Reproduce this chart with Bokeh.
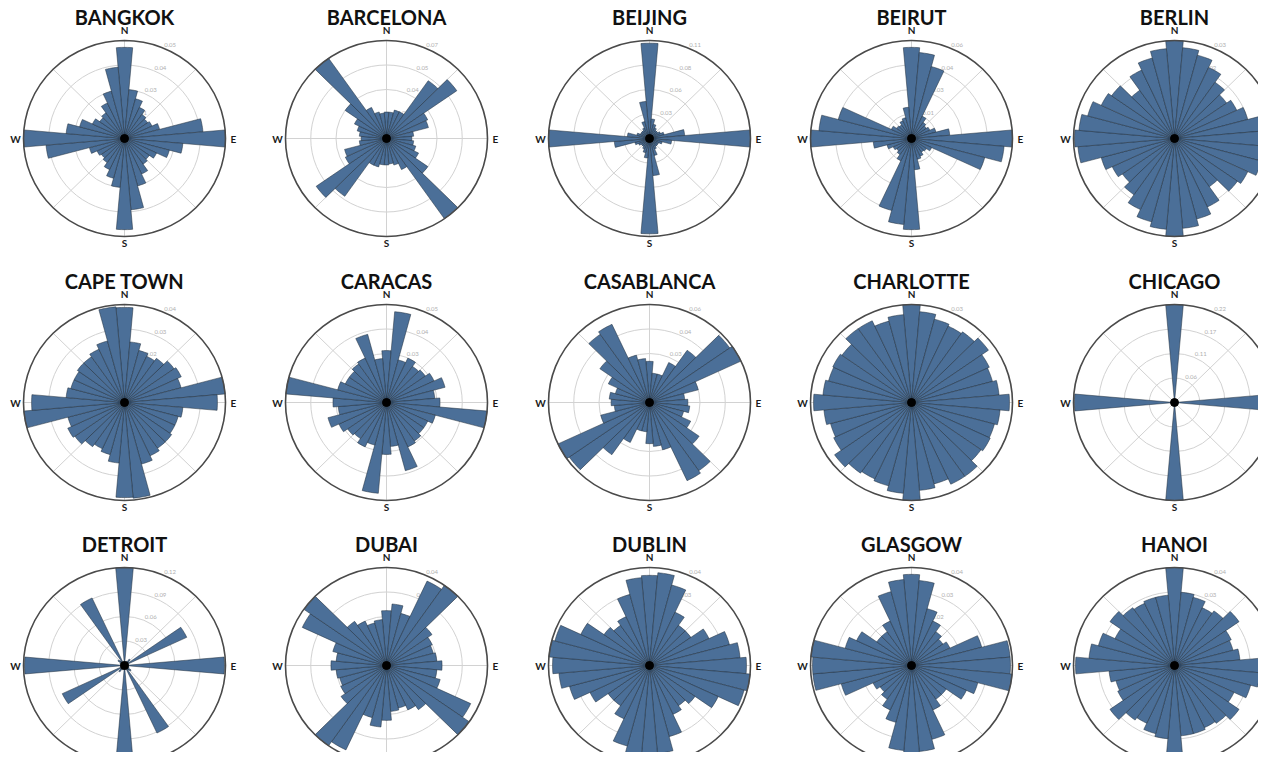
import math
from bokeh.plotting import figure
from bokeh.models import Range1d
from bokeh.embed import file_html
from bokeh.resources import INLINE
from bokeh.core.properties import value

# ---------------- data: share of street bearings per 10-degree bin ----------------
# bins centred at 0, 10, ..., 170 degrees (bins 180..350 mirror these)
cities = ["BANGKOK", "BARCELONA", "BEIJING", "BEIRUT", "BERLIN",
          "CAPE TOWN", "CARACAS", "CASABLANCA", "CHARLOTTE", "CHICAGO",
          "DETROIT", "DUBAI", "DUBLIN", "GLASGOW", "HANOI"]

bangkok = [0.0465, 0.025, 0.021, 0.0175, 0.015, 0.014, 0.015, 0.018, 0.039,
           0.05, 0.029, 0.023, 0.0175, 0.015, 0.016, 0.02, 0.025, 0.0365]
barcelona = [0.0189, 0.0189, 0.021, 0.021, 0.0504, 0.0595, 0.0315, 0.0301, 0.0189,
             0.0175, 0.0189, 0.021, 0.0245, 0.035, 0.07, 0.0245, 0.0196, 0.0182]
beijing = [0.107, 0.022, 0.0165, 0.0132, 0.011, 0.011, 0.0132, 0.0165, 0.0385,
           0.11, 0.0242, 0.0143, 0.011, 0.011, 0.011, 0.0132, 0.0198, 0.0418]
beirut = [0.0558, 0.0528, 0.0456, 0.015, 0.012, 0.0108, 0.012, 0.015, 0.0228,
          0.06, 0.0552, 0.045, 0.0132, 0.0108, 0.0102, 0.012, 0.0132, 0.0192]
berlin = [0.03, 0.0279, 0.0264, 0.024, 0.021, 0.0189, 0.0204, 0.0225, 0.0288,
          0.0297, 0.0285, 0.0267, 0.024, 0.0228, 0.018, 0.0231, 0.0255, 0.0276]
cape_town = [0.0388, 0.0248, 0.022, 0.0208, 0.022, 0.024, 0.0248, 0.0232, 0.04,
             0.0368, 0.0232, 0.022, 0.022, 0.0228, 0.0228, 0.024, 0.026, 0.0392]
caracas = [0.0265, 0.0465, 0.0225, 0.025, 0.0225, 0.0235, 0.026, 0.03, 0.024,
           0.0265, 0.05, 0.025, 0.0225, 0.0225, 0.024, 0.025, 0.036, 0.0225]
casablanca = [0.0252, 0.018, 0.018, 0.027, 0.039, 0.0582, 0.06, 0.03, 0.021,
              0.0228, 0.024, 0.021, 0.027, 0.036, 0.051, 0.0528, 0.03, 0.027]
charlotte = [0.03, 0.0279, 0.0264, 0.0258, 0.0264, 0.0279, 0.0255, 0.0249, 0.0261,
             0.0291, 0.0264, 0.0255, 0.0258, 0.0252, 0.0276, 0.0276, 0.0258, 0.027]
chicago = [0.22, 0.0044, 0.0022, 0.0022, 0.0022, 0.0022, 0.0022, 0.0022, 0.0044,
           0.218, 0.0044, 0.0022, 0.0022, 0.0022, 0.0022, 0.0022, 0.0022, 0.0044]
detroit = [0.12, 0.0048, 0.0036, 0.006, 0.0096, 0.006, 0.0816, 0.0048, 0.0036,
           0.1188, 0.0036, 0.0048, 0.006, 0.0096, 0.0072, 0.0912, 0.0048, 0.0036]
dubai = [0.0224, 0.0252, 0.022, 0.038, 0.04, 0.022, 0.02, 0.0192, 0.02,
         0.022, 0.02, 0.022, 0.0368, 0.0398, 0.022, 0.02, 0.018, 0.0188]
dublin = [0.0368, 0.038, 0.034, 0.024, 0.02, 0.02, 0.026, 0.0328, 0.036,
          0.0384, 0.04, 0.0388, 0.03, 0.022, 0.02, 0.022, 0.03, 0.036]
glasgow = [0.0372, 0.0348, 0.024, 0.02, 0.0168, 0.0152, 0.0168, 0.0288, 0.0392,
           0.0392, 0.04, 0.0272, 0.024, 0.0168, 0.0168, 0.02, 0.0312, 0.0352]
hanoi = [0.04, 0.03, 0.0288, 0.026, 0.0272, 0.0312, 0.0248, 0.024, 0.026,
         0.0392, 0.034, 0.0312, 0.026, 0.0312, 0.0288, 0.028, 0.0288, 0.0288]

series = [bangkok, barcelona, beijing, beirut, berlin,
          cape_town, caracas, casablanca, charlotte, chicago,
          detroit, dubai, dublin, glasgow, hanoi]

bin_deg = list(range(0, 360, 10))
compass = ["N", "E", "S", "W"]

# ---------------- layout / style ----------------
W, H = 1258, 752
COL_X = [124, 386, 649, 911, 1174]
ROW_Y = [138, 402, 665]
RX, RY = 101, 98
BAR_FILL = "#4b6f98"
BAR_EDGE = "#1e2b3a"
GRID = "#d2d2d2"

p = figure(width=W, height=H, x_range=Range1d(0, W), y_range=Range1d(-H, 0),
           output_backend="svg", toolbar_location=None, min_border=0)
p.axis.visible = False
p.grid.visible = False
p.outline_line_color = None
p.background_fill_color = "white"
p.border_fill_color = "white"


def pt(cx, cy, frac, deg):
    t = math.radians(deg)
    return cx + RX * frac * math.sin(t), cy + RY * frac * math.cos(t)


for i, (name, half) in enumerate(zip(cities, series)):
    cx = COL_X[i % 5]
    cy = -ROW_Y[i // 5]
    vals = half + half  # 36 bins: bearings are bidirectional
    rmax = max(vals)

    # grid rings
    fr = [0.25, 0.5, 0.75]
    p.ellipse(x=[cx] * 3, y=[cy] * 3, width=[2 * RX * f for f in fr], height=[2 * RY * f for f in fr],
              fill_color=None, line_color=GRID, line_width=1)
    # spokes
    sx0, sy0, sx1, sy1 = [], [], [], []
    for d in range(0, 360, 45):
        x1, y1 = pt(cx, cy, 1.0, d)
        sx0.append(cx); sy0.append(cy); sx1.append(x1); sy1.append(y1)
    p.segment(x0=sx0, y0=sy0, x1=sx1, y1=sy1, line_color=GRID, line_width=1)

    # radial tick labels
    tx, ty, tt = [], [], []
    for k in range(1, 5):
        f = k / 4
        x, y = pt(cx, cy, f, 22.5)
        tx.append(x + 1); ty.append(y + 1); tt.append(f"{rmax * f:.2f}")
    p.text(x=tx, y=ty, text=tt, text_font=value("Lato"), text_font_size="6px",
           text_color="#b0b0b0", text_align="left", text_baseline="bottom")

    # bars
    xs, ys = [], []
    for d, v in zip(bin_deg, vals):
        f = v / rmax
        bx, by = [cx], [cy]
        for j in range(7):
            x, y = pt(cx, cy, f, d - 5 + 10 * j / 6)
            bx.append(x); by.append(y)
        xs.append(bx); ys.append(by)
    p.patches(xs=xs, ys=ys, fill_color=BAR_FILL, line_color=BAR_EDGE, line_width=0.6, line_alpha=0.85)

    # centre dot and outer ring
    p.scatter(x=[cx], y=[cy], size=8, color="black")
    p.ellipse(x=[cx], y=[cy], width=[2 * RX], height=[2 * RY], fill_color=None,
              line_color="#4a4a4a", line_width=1.6)

    # compass labels (only those that fall inside the page, as in the reference)
    lx = [cx, cx + 109, cx, cx - 109]
    ly = [cy + 109, cy, cy - 104, cy]
    keep = [k for k in range(4) if 4 <= lx[k] <= W - 4 and -H + 5 <= ly[k] <= -5]
    p.text(x=[lx[k] for k in keep], y=[ly[k] for k in keep], text=[compass[k] for k in keep],
           text_font=value("Lato"), text_font_size="10px", text_font_style="bold",
           text_color="#1a1a1a", text_align="center", text_baseline="middle")

    # title
    p.text(x=[cx], y=[cy + 122], text=[name], text_font=value("Lato"), text_font_size="20px",
           text_font_style="bold", text_color="#111111", text_align="center", text_baseline="middle")

open("out.html", "w").write(file_html(p, INLINE, title="Street orientation"))
